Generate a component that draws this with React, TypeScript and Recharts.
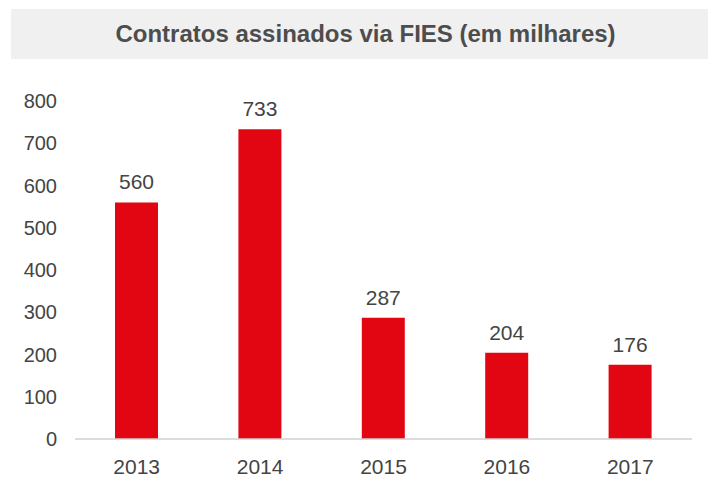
import { BarChart, Bar, XAxis, YAxis, LabelList } from 'recharts'

const years = ['2013', '2014', '2015', '2016', '2017']
const contracts = [560, 733, 287, 204, 176]
const yTicks = [0, 100, 200, 300, 400, 500, 600, 700, 800]

const data = years.map((year, i) => ({ year, contracts: contracts[i] }))

const font = '"Liberation Sans", Arial, sans-serif'
const textColor = '#444'

export default function App() {
  return (
    <div style={{ position: 'absolute', left: 0, top: 0, width: 708, height: 477, background: '#fff', fontFamily: font }}>
      <div
        style={{
          position: 'absolute',
          left: 11,
          top: 9,
          width: 697,
          height: 50,
          background: '#f0f0f0',
          color: '#4d4d4d',
          fontWeight: 'bold',
          fontSize: 24,
          lineHeight: '50px',
          textAlign: 'center',
          paddingLeft: 12,
          boxSizing: 'border-box',
        }}
      >
        Contratos assinados via FIES (em milhares)
      </div>
      <div style={{ position: 'absolute', left: 0, top: 0 }}>
        <BarChart width={708} height={477} data={data} margin={{ top: 101, right: 16, left: 0, bottom: 0 }}>
          <XAxis
            dataKey="year"
            height={38}
            axisLine={{ stroke: '#d0d0d0', strokeWidth: 1.5 }}
            tickLine={false}
            tickSize={0}
            tickMargin={20}
            tick={{ fill: textColor, fontSize: 21, fontFamily: font }}
          />
          <YAxis
            width={75}
            domain={[0, 800]}
            ticks={yTicks}
            axisLine={false}
            tickLine={false}
            tickSize={0}
            tickMargin={18}
            tick={{ fill: textColor, fontSize: 20, fontFamily: font }}
          />
          <Bar dataKey="contracts" fill="#e20613" barSize={43} isAnimationActive={false}>
            <LabelList dataKey="contracts" position="top" offset={13} fill={textColor} fontSize={21} fontFamily={font} />
          </Bar>
        </BarChart>
      </div>
    </div>
  )
}
